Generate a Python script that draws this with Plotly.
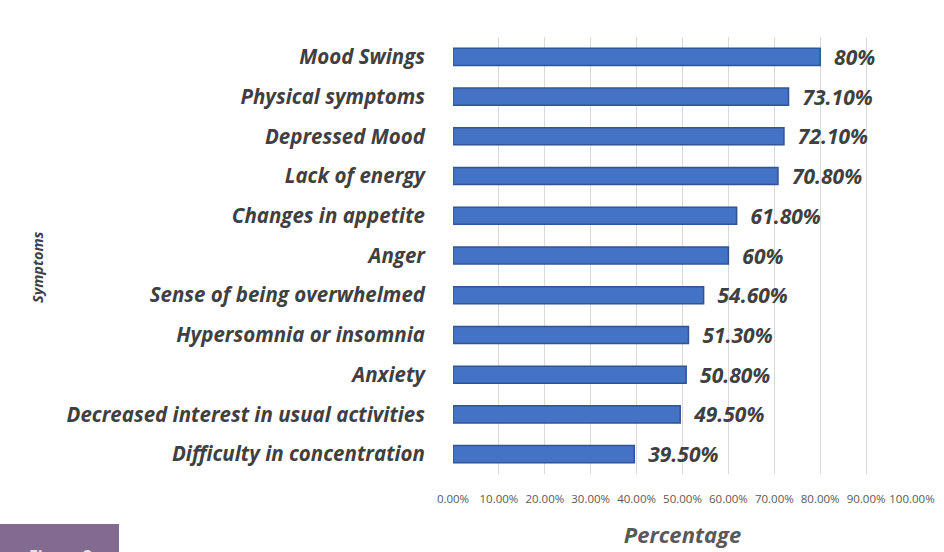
import plotly.graph_objects as go

categories = ["Mood Swings", "Physical symptoms", "Depressed Mood", "Lack of energy",
              "Changes in appetite", "Anger", "Sense of being overwhelmed",
              "Hypersomnia or insomnia", "Anxiety", "Decreased interest in usual activities",
              "Difficulty in concentration"]
values = [80, 73.1, 72.1, 70.8, 61.8, 60, 54.6, 51.3, 50.8, 49.5, 39.5]
value_labels = ["80%", "73.10%", "72.10%", "70.80%", "61.80%", "60%", "54.60%",
                "51.30%", "50.80%", "49.50%", "39.50%"]
tick_vals = [0, 10, 20, 30, 40, 50, 60, 70, 80, 90, 100]
tick_text = ["0.00%", "10.00%", "20.00%", "30.00%", "40.00%", "50.00%", "60.00%",
             "70.00%", "80.00%", "90.00%", "100.00%"]

W, H = 944, 552
L, R, T, B = 453, 32, 37, 78
pw, ph = W - L - R, H - T - B

def px(x):
    return (x - L) / pw

def py(y):
    return (H - B - y) / ph

fig = go.Figure(go.Bar(
    y=categories, x=values, orientation="h",
    marker=dict(color="#4472C4", line=dict(color="#2F5597", width=1.5)),
    width=0.43,
    text=["\u00a0\u00a0" + t for t in value_labels], textposition="outside",
    constraintext="none",
    textfont=dict(family="Open Sans", size=21, color="#404040", style="italic", weight="bold"),
    cliponaxis=False,
))

fig.update_layout(
    width=W, height=H, margin=dict(l=L, r=R, t=T, b=B),
    paper_bgcolor="white", plot_bgcolor="white", showlegend=False,
    xaxis=dict(range=[0, 100], tickvals=tick_vals, ticktext=tick_text,
               showgrid=True, gridcolor="#D9D9D9", gridwidth=1, zeroline=False,
               tickfont=dict(family="Open Sans", size=11.5, color="#595959"),
               ticklabelstandoff=16, automargin=False,
               title=dict(text="Percentage", standoff=23,
                          font=dict(family="Open Sans", size=22, color="#595959",
                                    style="italic", weight="bold")),
               fixedrange=True),
    yaxis=dict(autorange="reversed", showgrid=False, zeroline=False,
               tickfont=dict(family="Open Sans", size=20.5, color="#404040",
                             style="italic", weight="bold"),
               ticklabelstandoff=27, showline=False, automargin=False),
    font=dict(family="Open Sans"),
    annotations=[
        dict(text="Symptoms", x=px(37), y=py(267), xref="paper", yref="paper",
             xanchor="center", yanchor="middle",
             textangle=-90, showarrow=False,
             font=dict(family="Open Sans", size=14.5, color="#404040", style="italic", weight="bold")),
        dict(text="Figure 2", x=px(60), y=py(543), xref="paper", yref="paper",
             xanchor="center", yanchor="top", showarrow=False,
             font=dict(family="Open Sans", size=16, color="#E8E0EE", weight="bold")),
    ],
    shapes=[
        dict(type="rect", xref="paper", yref="paper", x0=px(0), x1=px(119),
             y0=py(552), y1=py(524), fillcolor="#836A90", line=dict(width=0), layer="below"),
    ],
)

fig.write_html("out.html")
